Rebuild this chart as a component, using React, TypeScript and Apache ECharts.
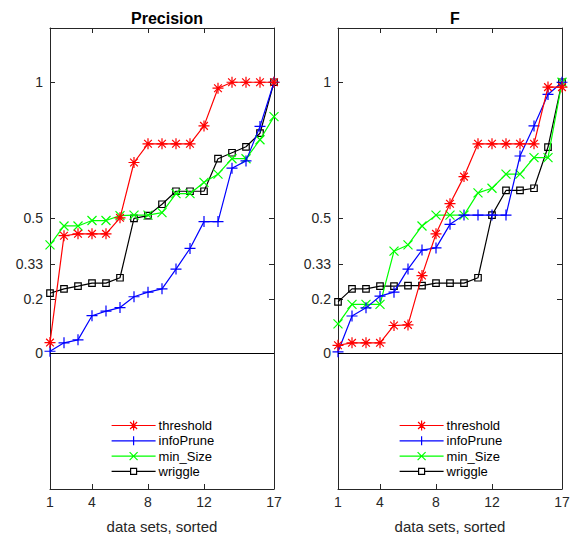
import React, { useEffect, useRef } from "react";
import * as echarts from "echarts";

const dataSets = [1, 2, 3, 4, 5, 6, 7, 8, 9, 10, 11, 12, 13, 14, 15, 16, 17];
const xTicks = [1, 4, 8, 12, 17];
const yTicks = [0, 0.2, 0.33, 0.5, 1];
const seriesNames = ["threshold", "infoPrune", "min_Size", "wriggle"];
const panelTitles = ["Precision", "F"];

const precThreshold = [0.04, 0.434, 0.441, 0.441, 0.441, 0.5, 0.704, 0.773, 0.773, 0.773, 0.773, 0.839, 0.978, 1, 1, 1, 1];
const precInfoPrune = [0.008, 0.039, 0.05, 0.139, 0.156, 0.169, 0.209, 0.226, 0.238, 0.311, 0.387, 0.486, 0.486, 0.683, 0.71, 0.837, 1];
const precMinSize = [0.4, 0.47, 0.47, 0.49, 0.49, 0.508, 0.51, 0.51, 0.519, 0.589, 0.589, 0.631, 0.661, 0.718, 0.718, 0.788, 0.873];
const precWriggle = [0.222, 0.238, 0.248, 0.259, 0.259, 0.279, 0.498, 0.508, 0.55, 0.598, 0.598, 0.598, 0.718, 0.74, 0.762, 0.812, 1];

const fThreshold = [0.03, 0.039, 0.039, 0.039, 0.103, 0.105, 0.287, 0.441, 0.552, 0.652, 0.773, 0.773, 0.773, 0.773, 0.773, 0.982, 0.982];
const fInfoPrune = [0.006, 0.138, 0.168, 0.211, 0.226, 0.311, 0.381, 0.389, 0.476, 0.51, 0.51, 0.51, 0.51, 0.728, 0.839, 0.955, 1];
const fMinSize = [0.109, 0.181, 0.181, 0.181, 0.377, 0.4, 0.47, 0.51, 0.51, 0.51, 0.592, 0.609, 0.661, 0.661, 0.722, 0.722, 1];
const fWriggle = [0.19, 0.238, 0.238, 0.248, 0.248, 0.25, 0.25, 0.259, 0.259, 0.259, 0.279, 0.51, 0.601, 0.601, 0.609, 0.761, 1];

const FONT = "'Liberation Sans', Arial, Helvetica, sans-serif";
const AX = "#262626";

const styles = [
  {
    color: "#ff0000",
    symbol: "path://M0,-1L0,1M-1,0L1,0M-0.7,-0.7L0.7,0.7M-0.7,0.7L0.7,-0.7",
    size: 11,
    fill: "#ff0000",
    icon: "path://M0,5L44,5M22,0L22,10M17,5L27,5M18.5,1.5L25.5,8.5M18.5,8.5L25.5,1.5",
  },
  {
    color: "#0000ff",
    symbol: "path://M0,-1L0,1M-1,0L1,0",
    size: 11,
    fill: "#0000ff",
    icon: "path://M0,5L44,5M22,0.5L22,9.5M17.5,5L26.5,5",
  },
  {
    color: "#00ff00",
    symbol: "path://M-1,-1L1,1M-1,1L1,-1",
    size: 9,
    fill: "#00ff00",
    icon: "path://M0,5L44,5M18,1L26,9M18,9L26,1",
  },
  {
    color: "#000000",
    symbol: "rect",
    size: 6.5,
    fill: "rgba(0,0,0,0)",
    icon: "path://M0,5L19,5M25,5L44,5M19,2L25,2L25,8L19,8Z",
  },
];

export default function App() {
  const ref = useRef<HTMLDivElement>(null);
  useEffect(() => {
    if (!ref.current) return;
    const chart = echarts.init(ref.current, null, { renderer: "svg" });
    const grids = [
      { left: 50, top: 28, width: 224, height: 469 },
      { left: 338, top: 28, width: 224, height: 469 },
    ];
    const panels = [
      [precThreshold, precInfoPrune, precMinSize, precWriggle],
      [fThreshold, fInfoPrune, fMinSize, fWriggle],
    ];
    const xAxis: any[] = [];
    const yAxis: any[] = [];
    const series: any[] = [];
    const legend: any[] = [];
    const title: any[] = [];
    grids.forEach((g, gi) => {
      const xa = {
        type: "value",
        gridIndex: gi,
        min: 1,
        max: 17,
        splitLine: { show: false },
        axisLine: { onZero: false, lineStyle: { color: AX, width: 1 } },
      };
      xAxis.push({
        ...xa,
        position: "bottom",
        name: "data sets, sorted",
        nameLocation: "middle",
        nameGap: 30,
        nameTextStyle: { fontFamily: FONT, fontSize: 15, color: AX },
        axisTick: { inside: true, length: 5, customValues: xTicks, lineStyle: { color: AX } },
        axisLabel: { customValues: xTicks, fontFamily: FONT, fontSize: 14, color: AX, margin: 6 },
      });
      xAxis.push({
        ...xa,
        position: "top",
        axisTick: { inside: true, length: 5, customValues: xTicks, lineStyle: { color: AX } },
        axisLabel: { show: false },
      });
      const ya = {
        type: "value",
        gridIndex: gi,
        min: -0.5,
        max: 1.2,
        splitLine: { show: false },
        axisLine: { onZero: false, lineStyle: { color: AX, width: 1 } },
      };
      yAxis.push({
        ...ya,
        position: "left",
        axisTick: { inside: true, length: 5, customValues: yTicks, lineStyle: { color: AX } },
        axisLabel: { customValues: yTicks, fontFamily: FONT, fontSize: 14, color: AX, margin: 7 },
      });
      yAxis.push({
        ...ya,
        position: "right",
        axisTick: { inside: true, length: 5, customValues: yTicks, lineStyle: { color: AX } },
        axisLabel: { show: false },
      });
      panels[gi].forEach((vals, si) => {
        const st = styles[si];
        series.push({
          type: "line",
          name: seriesNames[si],
          xAxisIndex: gi * 2,
          yAxisIndex: gi * 2,
          data: dataSets.map((x, i) => [x, vals[i]]),
          symbol: st.symbol,
          symbolSize: st.size,
          showAllSymbol: true,
          lineStyle: { color: st.color, width: 1.2 },
          itemStyle: { color: st.fill, borderColor: st.color, borderWidth: 1.2 },
          z: 5 - si,
          markLine:
            si === 0
              ? {
                  silent: true,
                  symbol: "none",
                  label: { show: false },
                  lineStyle: { color: "#000", width: 1, type: "solid" },
                  data: [{ yAxis: 0 }],
                }
              : undefined,
        });
      });
      legend.push({
        orient: "vertical",
        left: g.left + 61,
        top: 419,
        padding: 0,
        itemWidth: 44,
        itemHeight: 10,
        itemGap: 2.3,
        data: seriesNames.map((n, si) => ({
          name: n,
          icon: styles[si].icon,
          itemStyle: { color: "rgba(0,0,0,0)", borderColor: styles[si].color, borderWidth: 1.2 },
        })),
        textStyle: { fontFamily: FONT, fontSize: 13, color: "#000", padding: [0, 0, 0, -2] },
        selectedMode: false,
      });
      title.push({
        text: panelTitles[gi],
        left: g.left + g.width / 2,
        top: 5,
        textAlign: "center",
        textStyle: { fontFamily: FONT, fontSize: 16, fontWeight: "bold", color: "#000" },
      });
    });
    chart.setOption({
      animation: false,
      backgroundColor: "#fff",
      title,
      grid: grids,
      xAxis,
      yAxis,
      legend,
      series,
    });
    return () => chart.dispose();
  }, []);
  return (
    <div
      ref={ref}
      style={{ position: "fixed", left: 0, top: 0, width: 574, height: 539 }}
    />
  );
}
